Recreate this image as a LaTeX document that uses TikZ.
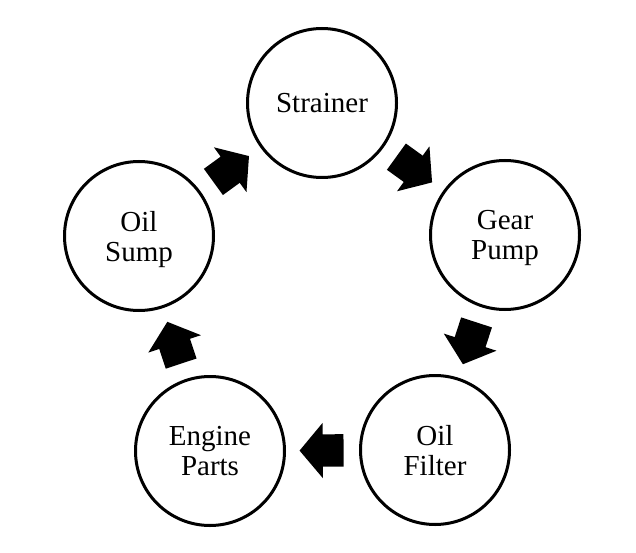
\documentclass[tikz,border=0pt]{standalone}
\usepackage{fontspec}
\setmainfont{Liberation Serif}
\usetikzlibrary{shapes.arrows}

\begin{document}
\begin{tikzpicture}[x=1pt,y=-1pt,
  part/.style={draw,line width=3pt,circle,minimum size=149pt,align=center,
    text depth=0pt,font=\fontsize{29}{30}\selectfont},
  flow/.style={single arrow,fill=black,minimum height=44pt,minimum width=55pt,
    inner xsep=0pt,inner ysep=16pt,single arrow head extend=11.5pt,
    single arrow tip angle=100,sloped,allow upside down,pos=0.42}]
\useasboundingbox (0,0) rectangle (636,553);
\node[part] (strainer) at (322,103) {Strainer};
\node[part] (pump) at (505,235) {Gear\\Pump};
\node[part] (filter) at (435,450) {Oil\\Filter};
\node[part] (engine) at (210,451) {Engine\\Parts};
\node[part] (sump) at (139,236) {Oil\\Sump};
\path (sump) -- node[flow] {} (strainer);
\path (strainer) -- node[flow] {} (pump);
\path (pump) -- node[flow] {} (filter);
\path (filter) -- node[flow] {} (engine);
\path (engine) -- node[flow] {} (sump);
\end{tikzpicture}
\end{document}
